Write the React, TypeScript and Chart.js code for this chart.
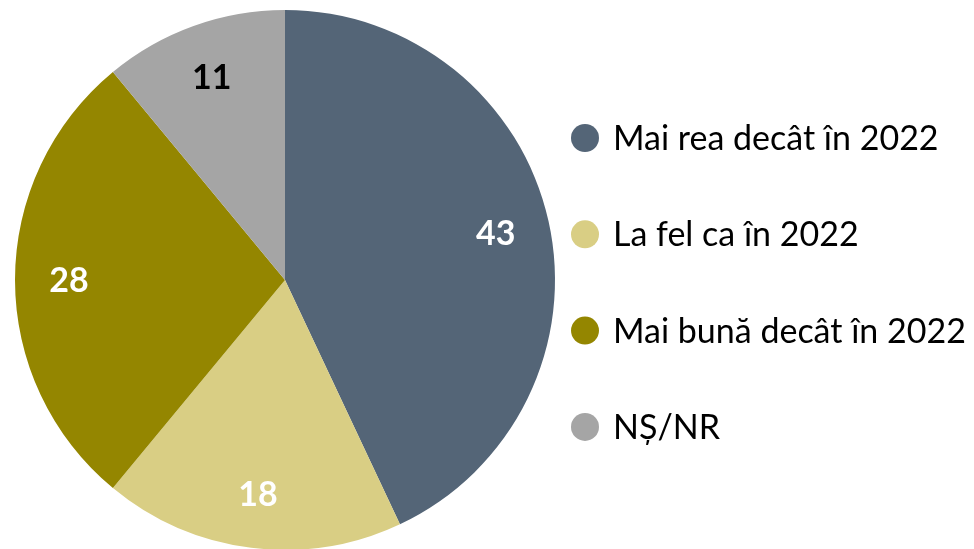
import React, { useEffect, useRef } from "react";
import { Chart, registerables } from "chart.js";

Chart.register(...registerables);

const categories = ["Mai rea decât în 2022", "La fel ca în 2022", "Mai bună decât în 2022", "NȘ/NR"];
const values = [43, 18, 28, 11];
const colors = ["#546577", "#D9CE84", "#948600", "#A5A5A5"];
const labelColors = ["#FFFFFF", "#FFFFFF", "#FFFFFF", "#000000"];

const FONT = "Lato, 'Open Sans', sans-serif";

const overlayPlugin = {
  id: "overlay",
  afterDatasetsDraw(chart: any) {
    const ctx = chart.ctx;
    const meta = chart.getDatasetMeta(0);
    ctx.save();
    // data labels
    ctx.font = `bold 34px ${FONT}`;
    ctx.textAlign = "center";
    ctx.textBaseline = "alphabetic";
    meta.data.forEach((arc: any, i: number) => {
      const { x, y, startAngle, endAngle, outerRadius } = arc.getProps(["x", "y", "startAngle", "endAngle", "outerRadius"], true);
      const mid = (startAngle + endAngle) / 2;
      const r = outerRadius * 0.8;
      ctx.fillStyle = labelColors[i];
      ctx.fillText(String(values[i]), x + Math.cos(mid) * r, y + Math.sin(mid) * r + 12);
    });
    // legend
    ctx.textAlign = "left";
    ctx.textBaseline = "alphabetic";
    ctx.font = `34px ${FONT}`;
    categories.forEach((c, i) => {
      const cy = 138 + i * 96.3;
      ctx.fillStyle = colors[i];
      ctx.beginPath();
      ctx.arc(585, cy, 14, 0, Math.PI * 2);
      ctx.fill();
      ctx.fillStyle = "#000000";
      ctx.fillText(c, 613, cy + 12);
    });
    ctx.restore();
  },
};

export default function App() {
  const ref = useRef<HTMLCanvasElement | null>(null);
  useEffect(() => {
    if (!ref.current) return;
    const chart = new Chart(ref.current, {
      type: "pie",
      data: {
        labels: categories,
        datasets: [
          {
            data: values,
            backgroundColor: colors,
            borderWidth: 0,
          },
        ],
      },
      options: {
        animation: false,
        responsive: false,
        layout: { padding: { left: 15, top: 10, right: 419, bottom: 10 } },
        plugins: { legend: { display: false }, tooltip: { enabled: false } },
      },
      plugins: [overlayPlugin],
    });
    return () => chart.destroy();
  }, []);
  return (
    <div style={{ position: "fixed", left: 0, top: 0, width: 974, height: 549, overflow: "hidden", background: "#fff" }}>
      <canvas ref={ref} width={974} height={560} style={{ width: 974, height: 560, display: "block" }} />
    </div>
  );
}
